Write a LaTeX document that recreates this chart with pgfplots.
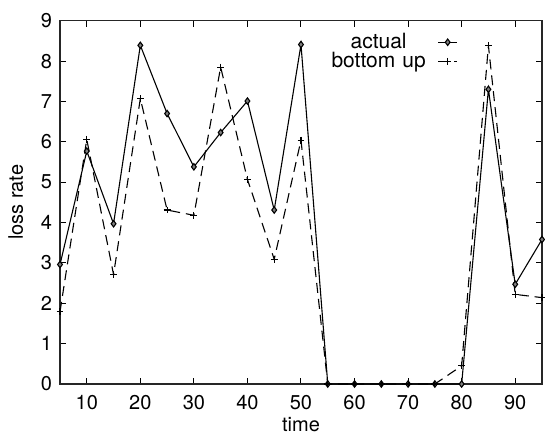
\documentclass[border=0pt]{standalone}
\usepackage{pgfplots}
\pgfplotsset{compat=1.18}
\usepackage{fontspec}
\setmainfont{TeX Gyre Heros}
\begin{document}
\begin{tikzpicture}[font=\fontsize{10bp}{12bp}\selectfont]
\useasboundingbox (-30bp,-24.5bp) rectangle (242.5bp,192bp);
\begin{axis}[
  at={(0,0)}, anchor=south west,
  scale only axis,
  width=241bp, height=181.65bp,
  xmin=5, xmax=95, ymin=0, ymax=9,
  xtick={10,20,...,90}, ytick={0,1,...,9},
  tick align=inside,
  major tick length=3bp,
  tick style={black, line width=0.5bp},
  axis line style={line width=0.6bp, black!85},
  /pgf/number format/assume math mode=true,
  tick label style={font=\fontsize{10bp}{12bp}\selectfont},
  xticklabel style={yshift=-2bp},
  yticklabel style={xshift=-0.5bp},
  xlabel={time},
  ylabel={loss rate},
  xlabel style={at={(axis description cs:0.5,-0.1294)}, anchor=base},
  ylabel style={at={(axis description cs:-0.0768,0.5)}, anchor=base},
  legend plot pos=right,
  legend style={draw=none, fill=none, at={(axis description cs:0.826,0.968)}, anchor=north east,
    inner sep=0pt, row sep=0pt, font=\fontsize{10.5bp}{12bp}\selectfont,
    nodes={inner sep=0pt, text height=7.7bp, text depth=1.8bp, text width=56bp, align=center},
    /tikz/every odd column/.style={column sep=1.5bp},
    /tikz/every even column/.style={column sep=0bp}},
  legend image code/.code={\draw[mark repeat=2,mark phase=2,#1] plot coordinates {(0bp,0bp)(4.75bp,0bp)(9.5bp,0bp)};},
]
\addplot[black, line width=0.55bp, mark=diamond*, mark size=1.6bp, mark options={solid, fill=gray, draw=black}] coordinates {
(5,2.96) (10,5.77) (15,3.97) (20,8.39) (25,6.70) (30,5.38) (35,6.23) (40,7.01) (45,4.31) (50,8.41)
(55,0) (60,0) (65,0) (70,0) (75,0) (80,0) (85,7.30) (90,2.47) (95,3.58)};
\addlegendentry{actual}
\addplot[black, line width=0.55bp, dash pattern=on 5bp off 3bp, mark=+, mark size=1.7bp, mark options={solid}] coordinates {
(5,1.79) (10,6.06) (15,2.71) (20,7.07) (25,4.31) (30,4.18) (35,7.85) (40,5.07) (45,3.09) (50,6.04)
(55,0) (60,0) (65,0) (70,0) (75,0) (80,0.45) (85,8.38) (90,2.22) (95,2.14)};
\addlegendentry{bottom up}
\end{axis}
\end{tikzpicture}
\end{document}
